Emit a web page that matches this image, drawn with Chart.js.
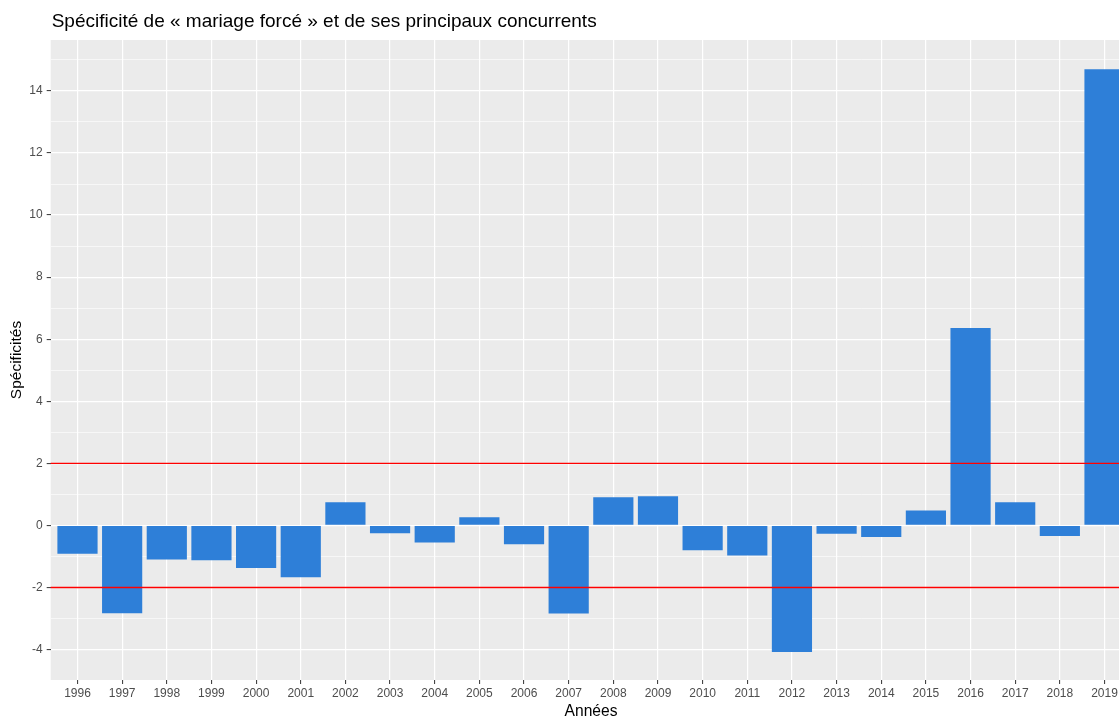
<!DOCTYPE html>
<html>
<head>
<meta charset="utf-8">
<script src="https://cdn.jsdelivr.net/npm/chart.js@4/dist/chart.umd.min.js"></script>
<style>
  html, body { margin: 0; padding: 0; overflow: hidden; background: #fff; width: 1119px; height: 717px; }
  #wrap { position: absolute; left: 0; top: 0; width: 1132px; height: 717px; }
</style>
</head>
<body>
<div id="wrap"><canvas id="c" width="1132" height="717"></canvas></div>
<script>
const chartTitle = "Spécificité de « mariage forcé » et de ses principaux concurrents";
const xTitle = "Années";
const yTitle = "Spécificités";
const years = ["1996","1997","1998","1999","2000","2001","2002","2003","2004","2005","2006","2007","2008","2009","2010","2011","2012","2013","2014","2015","2016","2017","2018","2019"];
const specificites = [-0.91,-2.83,-1.10,-1.12,-1.37,-1.67,0.75,-0.25,-0.55,0.26,-0.61,-2.84,0.91,0.94,-0.80,-0.97,-4.08,-0.27,-0.37,0.48,6.36,0.75,-0.34,14.70];
const thresholds = [2, -2];
const yTickValues = [-4,-3,-2,-1,0,1,2,3,4,5,6,7,8,9,10,11,12,13,14,15];

const FONT = "'Liberation Sans', Arial, Helvetica, sans-serif";

const bgPlugin = {
  id: 'bg',
  beforeDraw(chart) {
    const {ctx, chartArea: a} = chart;
    ctx.save();
    ctx.fillStyle = '#ffffff';
    ctx.fillRect(0, 0, chart.width, chart.height);
    ctx.fillStyle = '#EBEBEB';
    ctx.fillRect(a.left, a.top, a.right - a.left, a.bottom - a.top);
    ctx.restore();
  }
};
const refLines = {
  id: 'refLines',
  afterDatasetsDraw(chart) {
    const {ctx, chartArea: a, scales} = chart;
    ctx.save();
    ctx.strokeStyle = 'rgb(255,0,0)';
    ctx.lineWidth = 1.4;
    ctx.setLineDash([]);
    thresholds.forEach(t => {
      const y = scales.y.getPixelForValue(t);
      ctx.beginPath();
      ctx.moveTo(a.left, y);
      ctx.lineTo(a.right, y);
      ctx.stroke();
    });
    ctx.restore();
  }
};
const titlePlugin = {
  id: 'plotTitle',
  afterDraw(chart) {
    const {ctx, chartArea: a} = chart;
    ctx.save();
    ctx.fillStyle = '#000000';
    ctx.font = '19px ' + FONT;
    ctx.textAlign = 'left';
    ctx.textBaseline = 'middle';
    ctx.fillText(chartTitle, a.left + 1, 21.5);
    ctx.restore();
  }
};

new Chart(document.getElementById('c'), {
  type: 'bar',
  data: {
    datasets: [{
      data: specificites.map((v, i) => ({x: i, y: v})),
      backgroundColor: '#2E7FD8',
      borderWidth: 0,
      categoryPercentage: 1,
      barPercentage: 0.9
    }]
  },
  options: {
    responsive: false,
    animation: false,
    devicePixelRatio: 1,
    layout: { padding: { top: 40, left: 0, right: 0.7, bottom: 0 } },
    plugins: { legend: { display: false }, tooltip: { enabled: false }, title: { display: false } },
    scales: {
      x: {
        type: 'linear',
        min: -0.6, max: 23.6,
        bounds: 'data',
        offset: false,
        afterBuildTicks(scale) { scale.ticks = years.map((_, i) => ({value: i})); },
        afterFit(scale) { scale.height = 37; },
        grid: { offset: false, color: '#FFFFFF', lineWidth: 1.2, drawTicks: true, tickLength: 4, tickColor: '#333333', tickWidth: 1 },
        border: { display: false },
        ticks: {
          autoSkip: false, maxRotation: 0, minRotation: 0, padding: 2,
          color: '#4D4D4D', font: { family: FONT, size: 12 },
          callback: (v, i) => years[i]
        },
        title: { display: true, text: xTitle, color: '#000000', font: { family: FONT, size: 15.6, lineHeight: 1 }, padding: { top: 0, bottom: -2.5 } }
      },
      y: {
        type: 'linear',
        min: -4.98, max: 15.64,
        bounds: 'data',
        afterBuildTicks(scale) { scale.ticks = yTickValues.map(v => ({value: v})); },
        afterFit(scale) { scale.width = 50.7; },
        grid: {
          color: '#FFFFFF',
          lineWidth: c => (c.tick && Math.abs(c.tick.value % 2) === 1) ? 0.6 : 1.2,
          drawTicks: true, tickLength: 4,
          tickColor: c => (c.tick && Math.abs(c.tick.value % 2) === 1) ? 'rgba(0,0,0,0)' : '#333333',
          tickWidth: 1
        },
        border: { display: false },
        ticks: {
          autoSkip: false, padding: 4,
          color: '#4D4D4D', font: { family: FONT, size: 12 },
          callback: v => (Math.abs(v % 2) === 1 ? '' : String(v))
        },
        title: { display: true, text: yTitle, color: '#000000', font: { family: FONT, size: 15.5, lineHeight: 1 }, padding: { top: 9, bottom: 0 } }
      }
    }
  },
  plugins: [bgPlugin, refLines, titlePlugin]
});
</script>
</body>
</html>
